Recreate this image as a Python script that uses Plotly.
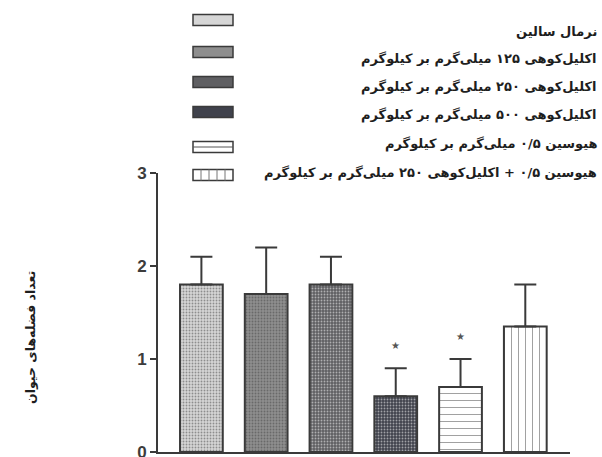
import plotly.graph_objects as go

# Group means and upper error (SEM) of droppings count
groups = [
    "نرمال سالین",
    "اکلیل‌کوهی ۱۲۵ میلی‌گرم بر کیلوگرم",
    "اکلیل‌کوهی ۲۵۰ میلی‌گرم بر کیلوگرم",
    "اکلیل‌کوهی ۵۰۰ میلی‌گرم بر کیلوگرم",
    "هیوسین ۰/۵ میلی‌گرم بر کیلوگرم",
    "هیوسین ۰/۵ + اکلیل‌کوهی ۲۵۰ میلی‌گرم بر کیلوگرم",
]
means = [1.8, 1.7, 1.8, 0.6, 0.7, 1.35]
errors = [0.3, 0.5, 0.3, 0.3, 0.3, 0.45]
significant = [False, False, False, True, True, False]
y_ticks = [0, 1, 2, 3]
y_title = "تعداد فضله‌های حیوان"

# Fill styling per group
fills = ["#d6d6d6", "#8e8e8e", "#5f5f62", "#40424c", "#ffffff", "#ffffff"]
pattern_shapes = [".", ".", ".", ".", "-", "|"]
pattern_fg = ["#cacaca", "#848484", "#58585c", "#3a3c46", "#4a4a4a", "#6a6a6a"]
pattern_size = [3, 3, 3, 3, 7, 7]
pattern_solidity = [0.3, 0.3, 0.3, 0.3, 0.15, 0.15]

OUT = "#3a3a3a"
W, H = 602, 457
L, R, T, B = 158, 32, 173, 5
PW, PH = W - L - R, H - T - B


def px_x(x):
    return (x - L) / PW


def px_y(y):
    return (H - B - y) / PH


idx = list(range(len(means)))

fig = go.Figure()
fig.add_trace(go.Bar(
    x=idx,
    y=means,
    width=0.66,
    marker=dict(
        color=fills,
        line=dict(color=OUT, width=2),
        pattern=dict(shape=pattern_shapes, fgcolor=pattern_fg,
                     size=pattern_size, solidity=pattern_solidity,
                     bgcolor=fills),
    ),
    error_y=dict(type="data", symmetric=False, array=errors,
                 arrayminus=[0] * len(errors), color=OUT,
                 thickness=2, width=11),
    showlegend=False,
    hoverinfo="skip",
))

annotations = []
# significance markers above the error bars
for i, (m, e, s) in enumerate(zip(means, errors, significant)):
    if s:
        annotations.append(dict(
            x=i, y=m + e, xref="x", yref="y", yshift=23,
            text="★", showarrow=False,
            font=dict(size=10, color="#555555", family="DejaVu Sans"),
        ))

# y-axis title
annotations.append(dict(
    x=px_x(30), y=px_y(338), xref="paper", yref="paper",
    text=f"<b>{y_title}</b>", textangle=-90, showarrow=False,
    xanchor="center", yanchor="middle",
    font=dict(size=12.5, color="#1e1e1e", family="DejaVu Sans"),
))

# legend: swatches on the left, labels right-aligned
shapes = []
swatch_y = [20, 52, 82, 112, 147, 175]
label_y = [31, 59, 87, 115, 144, 173]
sx0, sx1, sh = 193, 233, 11
for i, g in enumerate(groups):
    cy = swatch_y[i]
    shapes.append(dict(
        type="rect", xref="paper", yref="paper",
        x0=px_x(sx0), x1=px_x(sx1),
        y0=px_y(cy + sh / 2), y1=px_y(cy - sh / 2),
        fillcolor=fills[i], line=dict(color=OUT, width=1.5),
    ))
    if pattern_shapes[i] == "-":
        shapes.append(dict(
            type="line", xref="paper", yref="paper",
            x0=px_x(sx0), x1=px_x(sx1), y0=px_y(cy), y1=px_y(cy),
            line=dict(color="#555555", width=1),
        ))
    elif pattern_shapes[i] == "|":
        for k in range(1, 5):
            xx = sx0 + k * (sx1 - sx0) / 5
            shapes.append(dict(
                type="line", xref="paper", yref="paper",
                x0=px_x(xx), x1=px_x(xx),
                y0=px_y(cy + sh / 2), y1=px_y(cy - sh / 2),
                line=dict(color="#777777", width=1),
            ))
    annotations.append(dict(
        x=px_x(599), y=px_y(label_y[i]), xref="paper", yref="paper",
        text=f"<b>{g}</b>", showarrow=False,
        xanchor="right", yanchor="middle",
        font=dict(size=13, color="#1e1e1e", family="DejaVu Sans"),
    ))

fig.update_layout(
    width=W, height=H,
    margin=dict(l=L, r=R, t=T, b=B, pad=0, autoexpand=False),
    plot_bgcolor="white", paper_bgcolor="white",
    xaxis=dict(range=[-0.67, 5.69], showticklabels=False, ticks="",
               showgrid=False, zeroline=False, showline=True,
               linecolor=OUT, linewidth=2, fixedrange=True,
               automargin=False),
    yaxis=dict(range=[0, 3], tickvals=y_ticks, ticks="outside",
               ticklen=6, tickwidth=2, tickcolor=OUT,
               showgrid=False, zeroline=False, showline=True,
               linecolor=OUT, linewidth=2,
               ticklabeloverflow="allow", automargin=False,
               tickfont=dict(size=17, color="#3c3c3c", weight="bold",
                             family="Liberation Sans"),
               fixedrange=True),
    shapes=shapes,
    annotations=annotations,
)

fig.write_html("out.html")
